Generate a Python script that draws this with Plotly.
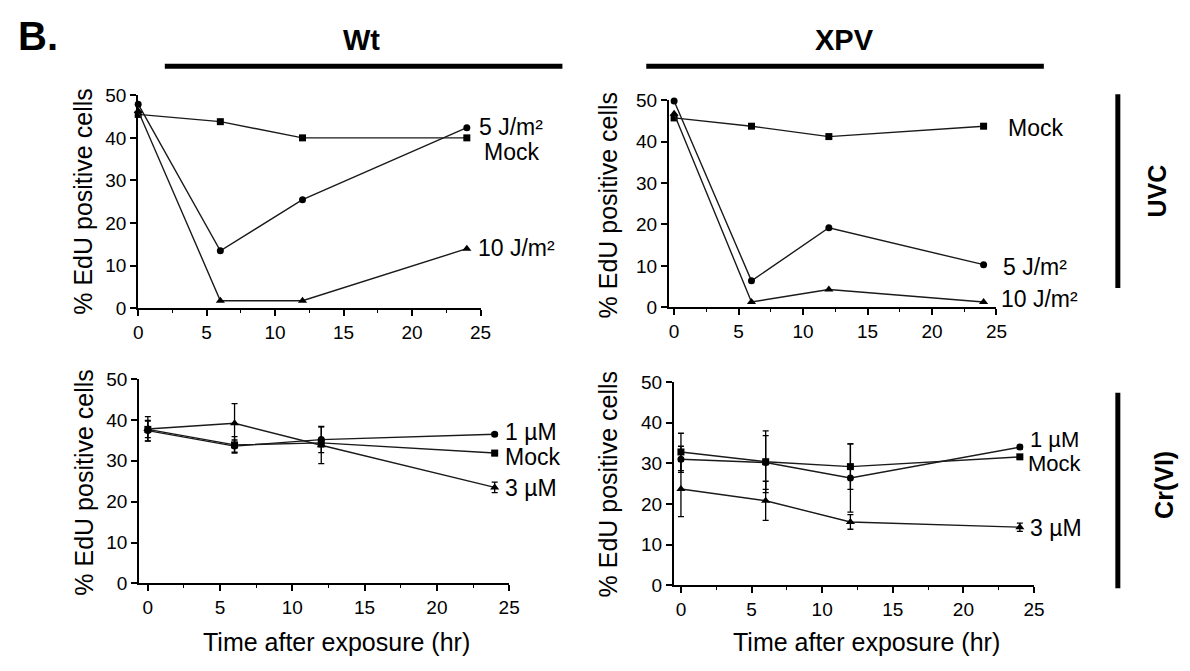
import plotly.graph_objects as go

W, H = 1190, 671
FONT = "Liberation Sans, Arial, sans-serif"

# ---------------- data ----------------
time = [0, 6, 12, 24]

# Wt, UVC
wt_uvc_mock = [45.5, 43.8, 40.0, 40.0]
wt_uvc_5 = [47.9, 13.5, 25.5, 42.4]
wt_uvc_10 = [46.3, 1.8, 1.8, 14.0]

# XPV, UVC
xpv_uvc_mock = [45.7, 43.7, 41.2, 43.7]
xpv_uvc_5 = [49.8, 6.4, 19.2, 10.3]
xpv_uvc_10 = [46.7, 1.3, 4.3, 1.3]

# Wt, Cr(VI)
wt_cr_mock = [37.7, 33.9, 34.4, 31.9]
wt_cr_mock_err = [2.0, 2.0, 1.0, 0.6]
wt_cr_1 = [37.4, 33.6, 35.2, 36.5]
wt_cr_1_err = [2.5, 1.5, 3.2, 0.4]
wt_cr_3 = [37.8, 39.2, 33.8, 23.5]
wt_cr_3_err = [3.0, 4.8, 4.5, 1.3]

# XPV, Cr(VI)
xpv_cr_mock = [32.8, 30.4, 29.2, 31.6]
xpv_cr_mock_err = [4.6, 7.6, 5.6, 0.5]
xpv_cr_1 = [31.0, 30.2, 26.4, 34.0]
xpv_cr_1_err = [3.2, 6.6, 8.4, 0.5]
xpv_cr_3 = [23.7, 20.8, 15.6, 14.3]
xpv_cr_3_err = [6.8, 4.8, 1.8, 1.0]

x_ticks = [0, 5, 10, 15, 20, 25]
y_ticks = [0, 10, 20, 30, 40, 50]


def fx(p):
    return p / W


def fy(p):
    return 1 - p / H


fig = go.Figure()

LINE = dict(color="#1a1a1a", width=1.4)


def add_series(y, symbol, size, xa, ya, err=None):
    kw = {}
    if err is not None:
        kw["error_y"] = dict(type="data", array=err, visible=True,
                             color="black", thickness=1.3, width=3)
    fig.add_trace(go.Scatter(
        x=time, y=y, mode="lines+markers", line=LINE,
        marker=dict(symbol=symbol, size=size, color="black",
                    line=dict(width=0)),
        xaxis=xa, yaxis=ya, cliponaxis=False, showlegend=False, **kw))


# top-left
add_series(wt_uvc_mock, "square", 7, "x", "y")
add_series(wt_uvc_5, "circle", 7, "x", "y")
add_series(wt_uvc_10, "triangle-up", 8, "x", "y")
# top-right
add_series(xpv_uvc_mock, "square", 7, "x2", "y2")
add_series(xpv_uvc_5, "circle", 7, "x2", "y2")
add_series(xpv_uvc_10, "triangle-up", 8, "x2", "y2")
# bottom-left
add_series(wt_cr_mock, "square", 7, "x3", "y3", wt_cr_mock_err)
add_series(wt_cr_1, "circle", 7, "x3", "y3", wt_cr_1_err)
add_series(wt_cr_3, "triangle-up", 8, "x3", "y3", wt_cr_3_err)
# bottom-right
add_series(xpv_cr_mock, "square", 7, "x4", "y4", xpv_cr_mock_err)
add_series(xpv_cr_1, "circle", 7, "x4", "y4", xpv_cr_1_err)
add_series(xpv_cr_3, "triangle-up", 8, "x4", "y4", xpv_cr_3_err)

AX = dict(showline=True, linecolor="black", linewidth=2, ticks="outside",
          ticklen=6, tickwidth=1.6, tickcolor="black", showgrid=False,
          zeroline=False, tickfont=dict(family=FONT, size=19, color="black"),
          fixedrange=True)


def xax(rng, l, r, anchor):
    return dict(AX, range=rng, tickvals=x_ticks, anchor=anchor,
                domain=[fx(l), fx(r)],
                minor=dict(tickvals=[2.5, 7.5, 12.5, 17.5, 22.5],
                           ticks="outside", ticklen=3, tickwidth=1.2,
                           tickcolor="black", showgrid=False))


def yax(t, b, anchor):
    return dict(AX, range=[0, 50], tickvals=y_ticks, anchor=anchor,
                domain=[fy(b), fy(t)])


fig.update_layout(
    width=W, height=H, margin=dict(l=0, r=0, t=0, b=0),
    paper_bgcolor="white", plot_bgcolor="white",
    xaxis=xax([0, 25], 135, 482, "y"),
    yaxis=yax(88, 308, "x"),
    xaxis2=xax([-0.4, 25], 673, 1005, "y2"),
    yaxis2=yax(93, 307, "x2"),
    xaxis3=xax([-0.6, 25], 136, 511, "y3"),
    yaxis3=yax(381, 592, "x3"),
    xaxis4=xax([-0.5, 25], 678, 1043, "y4"),
    yaxis4=yax(384, 594, "x4"),
)

ann = []


def label(text, x, y, size=23, bold=False, angle=0, xanchor="left"):
    t = f"<b>{text}</b>" if bold else text
    ann.append(dict(text=t, x=fx(x), y=fy(y), xref="paper", yref="paper",
                    xanchor=xanchor, yanchor="middle", showarrow=False,
                    textangle=angle,
                    font=dict(family=FONT, size=size, color="black")))


# series labels
label("5 J/m²", 478, 121)
label("Mock", 483, 147)
label("10 J/m²", 477, 246)
label("Mock", 1015, 122)
label("5 J/m²", 1010, 265)
label("10 J/m²", 1008, 298)
label("1 µM", 505, 436)
label("Mock", 505, 461)
label("3 µM", 505, 493)
label("1 µM", 1037, 443, size=22)
label("Mock", 1035, 468, size=22)
label("3 µM", 1037, 535)

# axis titles
for cx, cy in [(79, 198), (611, 202), (80, 488), (611, 490)]:
    label("% EdU positive cells", cx, cy, size=25, angle=-90, xanchor="center")
for cx in [336, 873]:
    label("Time after exposure (hr)", cx, 652, size=25, xanchor="center")

# headers
label("B.", 11, 27, size=40, bold=True)
label("Wt", 361, 31, size=29, bold=True, xanchor="center")
label("XPV", 851, 31, size=29, bold=True, xanchor="center")
label("UVC", 1168, 187, size=25, bold=True, angle=-90, xanchor="center")
label("Cr(VI)", 1174, 490, size=25, bold=True, angle=-90, xanchor="center")

fig.update_layout(annotations=ann)

shapes = []
for x0, x1 in [(162, 565), (650, 1053)]:
    shapes.append(dict(type="line", xref="paper", yref="paper",
                       x0=fx(x0), x1=fx(x1), y0=fy(58), y1=fy(58),
                       line=dict(color="black", width=5)))
for y0, y1 in [(87, 287), (395, 597)]:
    shapes.append(dict(type="line", xref="paper", yref="paper",
                       x0=fx(1128), x1=fx(1128), y0=fy(y0), y1=fy(y1),
                       line=dict(color="black", width=5)))
fig.update_layout(shapes=shapes)

fig.write_html("out.html")
